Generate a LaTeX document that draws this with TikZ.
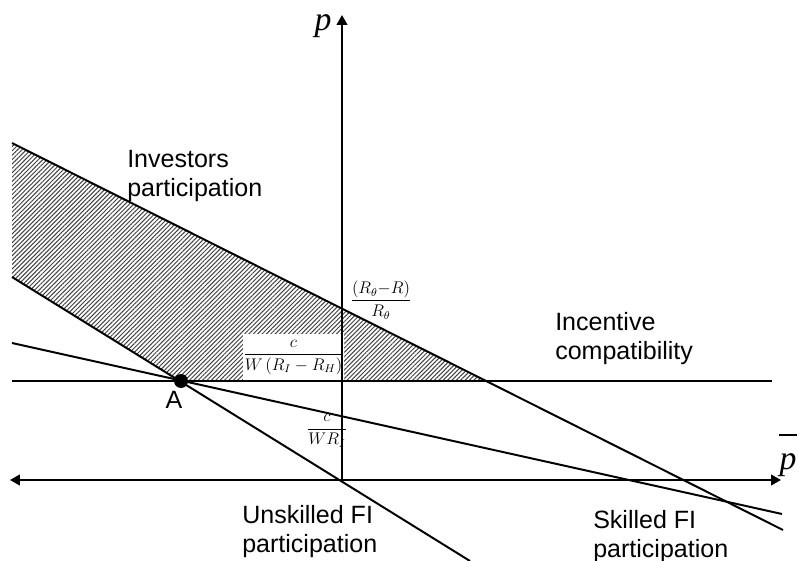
\documentclass[tikz,border=0pt]{standalone}
\usepackage{amsmath}
\usepackage{fontspec}
\setmainfont{Liberation Sans}
\newfontfamily\timesfont{Liberation Serif}
\usetikzlibrary{arrows.meta,patterns.meta}
\tikzset{
  curve/.style={line width=1.4pt},
  axis/.style={line width=1.4pt,-{Triangle[length=7pt,width=7.5pt]}},
  txt/.style={font=\fontsize{17.8}{20.6}\selectfont,align=left,
              anchor=north west,inner sep=0pt},
  frac/.style={font=\fontsize{12}{14}\selectfont,inner sep=0pt},
  axlbl/.style={font=\fontsize{24}{28}\selectfont\timesfont\itshape,
                inner sep=0pt},
  hatch/.style={pattern={Lines[angle=45,distance=2.2pt,line width=0.7pt]},
                pattern color=black!75},
}
\begin{document}
\begin{tikzpicture}[x=0.25mm,y=-0.25mm]
  \useasboundingbox (0,0) rectangle (799,561);
  % end points of the lines
  \coordinate (ipL) at (12,143);
  \coordinate (ipR) at (783,530);
  \coordinate (skL) at (12,343);
  \coordinate (skR) at (782,514);
  \coordinate (unL) at (12,277);
  \coordinate (unR) at (470,561);
  \coordinate (icL) at (12,381);
  \coordinate (icR) at (772,381);
  \coordinate (xL) at (10,480);
  \coordinate (xR) at (781,480);
  \coordinate (O) at (342,480);
  \coordinate (yT) at (342,15);
  \coordinate (Apt) at (181,381);
  \coordinate (B) at (intersection of ipL--ipR and icL--icR);

  % shaded region
  \fill[hatch] (ipL) -- (B) -- (Apt) -- (unL) -- cycle;
  \node[frac,fill=white,minimum width=24.25mm,minimum height=11.75mm]
        (icfrac) at (293.5,357) {$\dfrac{c}{W\left(R_I-R_H\right)}$};

  % lines
  \draw[curve] (ipL) -- (ipR);
  \draw[curve] (skL) -- (skR);
  \draw[curve] (unL) -- (unR);
  \draw[curve] (icL) -- (icR);

  % axes
  \draw[axis] (O) -- (yT);
  \draw[axis,{Triangle[length=7pt,width=7.5pt]}-{Triangle[length=7pt,width=7.5pt]}]
        (xL) -- (xR);
  \node[axlbl] (plab) at (323,26) {p};
  \node[axlbl] (pbar) at (788,465) {p};
  \draw[line width=1.3pt] ([yshift=4.6mm]pbar.north west)
        -- ([yshift=4.6mm]pbar.north east);

  % point A
  \node[circle,fill,minimum size=3.5mm,inner sep=0pt] (A) at (Apt) {};
  \node[font=\fontsize{17.8}{20.6}\selectfont,inner sep=0pt] (Alab)
        at (174,400) {A};

  % fractions
  \node[frac] (ipfrac) at (381,300) {$\dfrac{(R_\theta{-}R)}{R_\theta}$};
  \node[frac] (skfrac) at (327,431) {$\dfrac{c}{WR_I}$};

  % labels
  \node[txt] (inv) at (127,150) {Investors\\participation};
  \node[txt] (inc) at (555,312) {Incentive\\compatibility};
  \node[txt] (uns) at (242,505) {Unskilled FI\\participation};
  \node[txt] (skl) at (593,510) {Skilled FI\\participation};
\end{tikzpicture}
\end{document}
